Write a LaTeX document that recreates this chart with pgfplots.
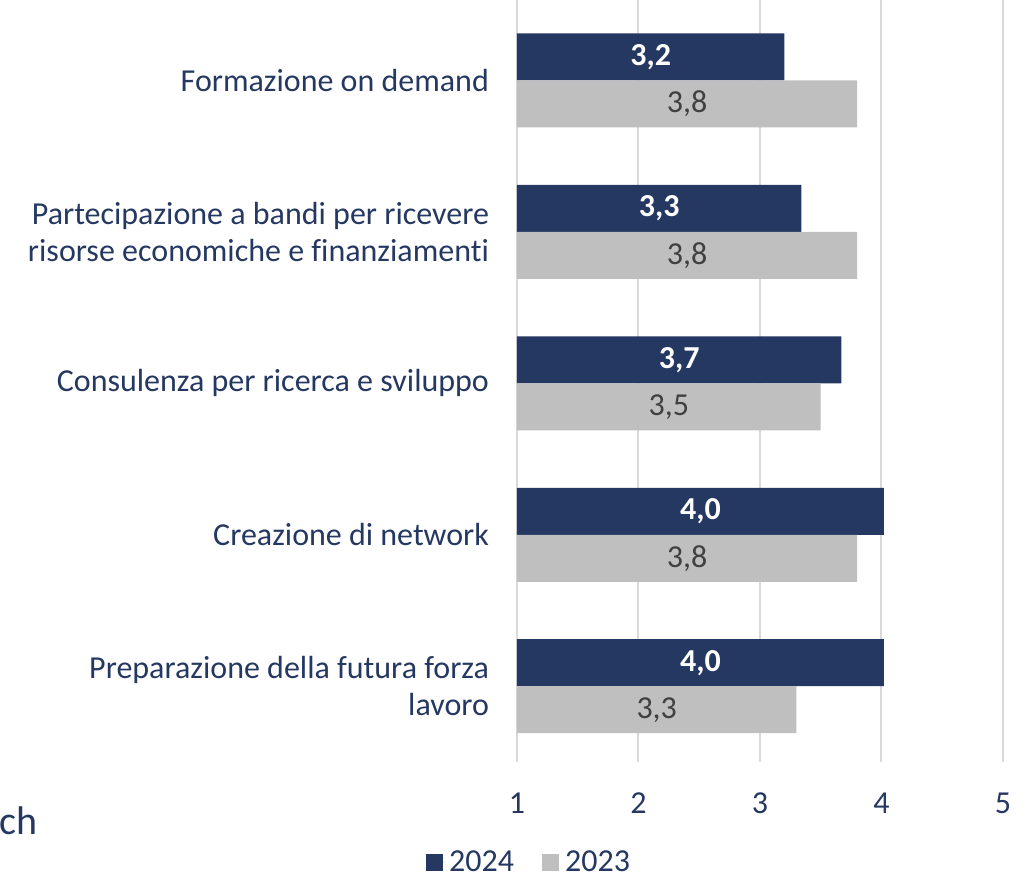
\documentclass[border=0pt]{standalone}
\usepackage{fontspec}
\setmainfont{Carlito}[Ligatures=NoCommon]
\usepackage{pgfplots}
\usepackage{pgfplotstable}
\pgfplotsset{compat=1.18}
\definecolor{navy}{RGB}{37,56,97}
\definecolor{bargray}{RGB}{191,191,191}
\definecolor{gridgray}{RGB}{217,217,217}
\definecolor{txtnavy}{RGB}{37,56,97}
\definecolor{lblgray}{RGB}{64,64,64}
\pgfplotstableread{
y v24 v23
0 4.02 3.30
1 4.02 3.80
2 3.67 3.50
3 3.34 3.80
4 3.20 3.80
}\data
\newcommand{\fs}{\fontsize{16}{18.5}\selectfont}
\begin{document}
\begin{tikzpicture}
\begin{axis}[
  scale only axis, width=243pt, height=381pt,
  xbar, bar width=23.5pt,
  xmin=1, xmax=5, ymin=-0.5, ymax=4.53,
  xtick={1,2,3,4,5},
  ytick={0,1,2,3,4},
  yticklabels={{Preparazione della futura forza\\lavoro}, {Creazione di network}, {Consulenza per ricerca e sviluppo}, {Partecipazione a bandi per ricevere\\risorse economiche e finanziamenti}, {Formazione on demand}},
  yticklabel style={align=right, text=txtnavy, font=\fs, xshift=-10.5pt},
  xticklabel style={text=txtnavy, font=\fs, yshift=-12pt},
  major tick length=0pt,
  axis line style={draw=none},
  xmajorgrids, grid style={gridgray, line width=1pt},
  /pgf/number format/assume math mode=true,
  nodes near coords,
  nodes near coords style={/pgf/number format/fixed, /pgf/number format/fixed zerofill, /pgf/number format/precision=1, /pgf/number format/use comma},
  legend style={at={(0.027,-0.1325)}, anchor=center, draw=none, fill=none, legend columns=2, font=\fs, text=txtnavy,
    /tikz/every even column/.append style={column sep=12pt}},
  legend image code/.code={\fill[#1] (0pt,-4.25pt) rectangle (8.5pt,4.25pt); \path (0pt,0pt) -- (9.5pt,0pt);},
]
\addplot[fill=navy, draw=none, bar shift=11.75pt,
  point meta=\thisrow{v24},
  visualization depends on={\thisrow{v24} \as \rawx},
  every node near coord/.append style={anchor=center, xshift={-(\rawx-1)*30.375pt}, text=white, font=\fs\bfseries}]
  table[x=v24, y=y] {\data};
\addlegendentry{2024}
\addplot[fill=bargray, draw=none, bar shift=-11.75pt,
  point meta=\thisrow{v23},
  visualization depends on={\thisrow{v23} \as \rawx},
  every node near coord/.append style={anchor=center, xshift={-(\rawx-1)*30.375pt}, text=lblgray, font=\fs}]
  table[x=v23, y=y] {\data};
\addlegendentry{2023}
\end{axis}
\node[anchor=base west, inner sep=0pt, text=txtnavy, font=\fontsize{20}{24}\selectfont] at ([shift={(-259pt,-36.5pt)}]current axis.south west) {ch};
\pgfresetboundingbox
\path[use as bounding box] ([shift={(-258.5pt,-57.5pt)}]current axis.south west) rectangle ([shift={(254pt,381pt)}]current axis.south west);
\end{tikzpicture}
\end{document}
